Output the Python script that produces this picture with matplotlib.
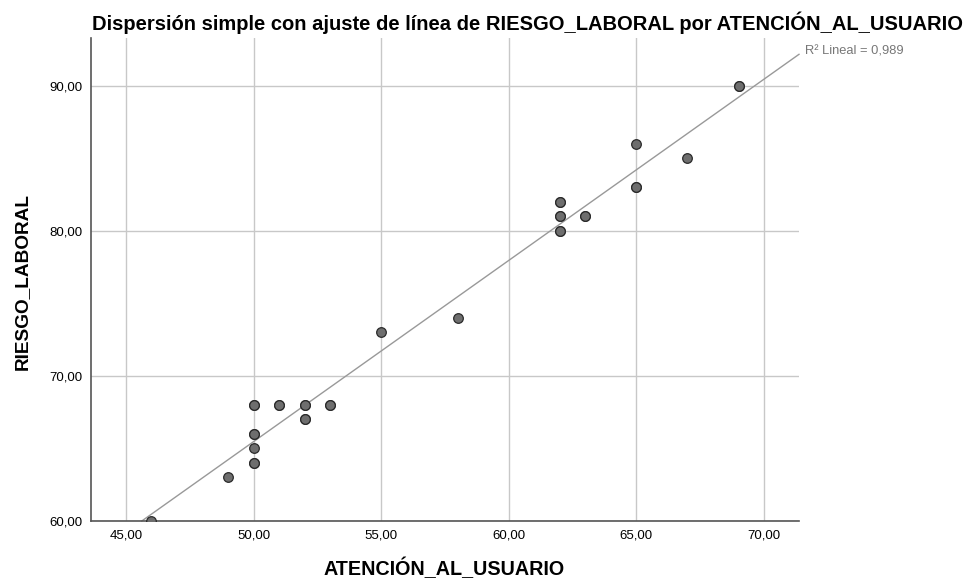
import numpy as np
import matplotlib
matplotlib.use("Agg")
import matplotlib.pyplot as plt

plt.rcParams['font.family'] = ['Liberation Sans', 'DejaVu Sans']

atencion = [46, 49, 50, 50, 50, 50, 50, 50, 50, 51, 51, 52, 52, 52, 52, 53, 53,
            55, 58, 62, 62, 62, 62, 62, 62, 63, 63, 65, 65, 65, 67, 69, 69]
riesgo = [60, 63, 64, 64, 65, 66, 66, 68, 68, 68, 68, 68, 68, 67, 67, 68, 68,
          73, 74, 80, 80, 81, 81, 82, 82, 81, 81, 83, 83, 86, 85, 90, 90]
xticks = [45, 50, 55, 60, 65, 70]
yticks = [60, 70, 80, 90]
r2_label = "R² Lineal = 0,989"

fig = plt.figure(figsize=(9.69, 5.79), dpi=100)
ax = fig.add_axes([91/969, 1-521/579, (799-91)/969, (521-38)/579])

xlim = (43.63, 71.37)
ylim = (60, 93.3)
ax.set_xlim(*xlim)
ax.set_ylim(*ylim)

ax.set_xticks(xticks)
ax.set_yticks(yticks)
ax.set_xticklabels([f"{v:.2f}".replace('.', ',') for v in xticks], fontsize=9.5)
ax.set_yticklabels([f"{v:.2f}".replace('.', ',') for v in yticks], fontsize=9.5)
ax.tick_params(length=0, pad=6)
ax.grid(True, color='#c8c8c8', linewidth=1.0)
ax.set_axisbelow(True)
for s in ['top', 'right']:
    ax.spines[s].set_visible(False)
for s in ['left', 'bottom']:
    ax.spines[s].set_color('#555555')
    ax.spines[s].set_linewidth(1.2)

# regression line
m, b = np.polyfit(atencion, riesgo, 1)
x0 = (ylim[0] - b) / m
xs = np.array([x0, xlim[1]])
ax.plot(xs, m * xs + b, color='#999999', linewidth=1.0, zorder=2, clip_on=False)

ax.scatter(atencion, riesgo, s=48, facecolor='#6e6e6e', edgecolor='#2a2a2a',
           linewidth=0.9, zorder=3, clip_on=True)

fig.text(805/969, 1-51/579, r2_label, fontsize=9.3, color='#777777', va='center', ha='left')

fig.text(92/969, 1-30/579,
         "Dispersión simple con ajuste de línea de RIESGO_LABORAL por ATENCIÓN_AL_USUARIO",
         fontsize=14.5, fontweight='bold', ha='left', va='baseline')
fig.text(444/969, 1-568/579, "ATENCIÓN_AL_USUARIO", fontsize=14.2,
         fontweight='bold', ha='center', va='center')
fig.text(22/969, 1-282/579, "RIESGO_LABORAL", fontsize=13.7, fontweight='bold',
         ha='center', va='center', rotation=90)

fig.savefig("out.png", dpi=100)
